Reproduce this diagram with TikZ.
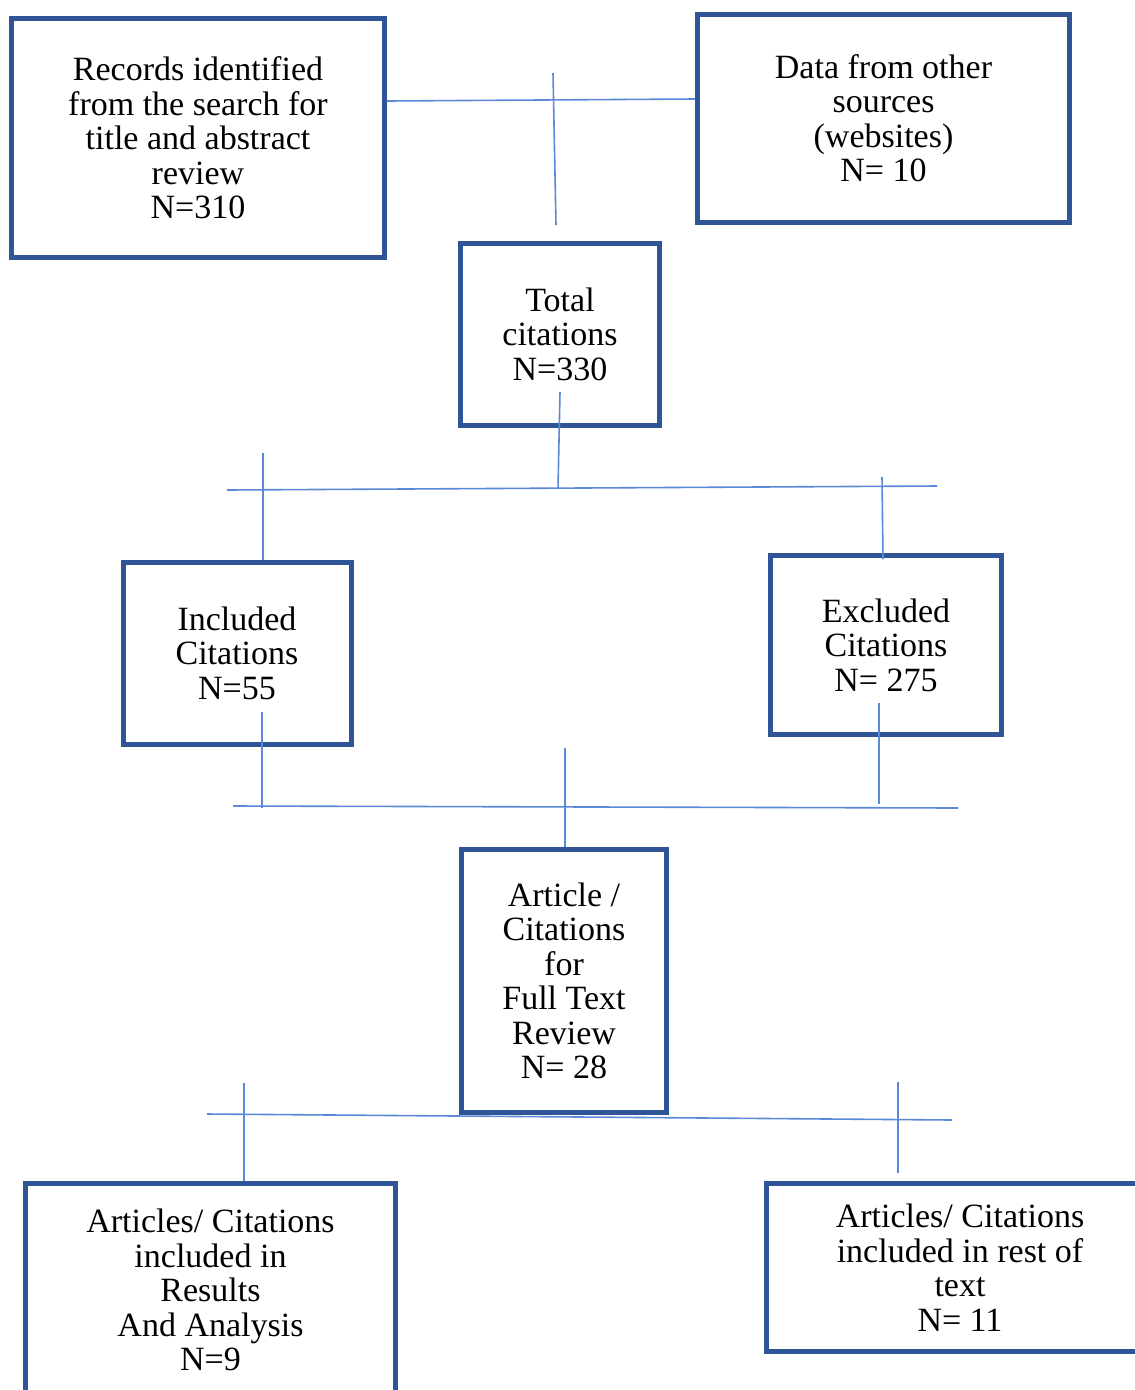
\documentclass[tikz,border=0pt]{standalone}
\usepackage{fontspec}
\setmainfont{Liberation Serif}
\newfontfamily\boxfont{Liberation Serif}
\usepackage{xcolor}
\definecolor{box-blue}{HTML}{2F5597}
\definecolor{line-blue}{HTML}{5B88D8}
\tikzset{
    flow-box/.style = {draw=box-blue, fill=white, line width=5pt, rectangle, align=center, inner sep=0pt, font=\boxfont\fontsize{34}{34.5}\selectfont},
    flow-line/.style = {draw=line-blue, line width=1.6pt},
}

\begin{document}
\begin{tikzpicture}[x=1pt, y=-1pt]
\useasboundingbox (0,0) rectangle (1135,1390);

\node[flow-box, minimum width=373pt, minimum height=239pt] (records) at (198,138)
    {Records identified\\from the search for\\title and abstract\\review\\N=310};
\node[flow-box, minimum width=372pt, minimum height=208pt] (data) at (883.5,118)
    {Data from other\\sources\\(websites)\\N= 10};
\node[flow-box, minimum width=199pt, minimum height=182pt] (total) at (560,334)
    {Total\\citations\\N=330};
\node[flow-box, minimum width=228pt, minimum height=182pt] (incl) at (237,653)
    {Included\\Citations\\N=55};
\node[flow-box, minimum width=231pt, minimum height=179pt] (excl) at (886,645)
    {Excluded\\Citations\\N= 275};
\node[flow-box, minimum width=205pt, minimum height=263pt] (fulltext) at (564,981)
    {Article /\\Citations\\for\\Full Text\\Review\\N= 28};
\node[flow-box, minimum width=370pt, minimum height=214pt] (results) at (210.5,1290)
    {Articles/ Citations\\included in\\Results\\And Analysis\\N=9};
\node[flow-box, minimum width=387pt, minimum height=168pt] (rest) at (960,1267.5)
    {Articles/ Citations\\included in rest of\\text\\N= 11};

% bus ends and free ends
\coordinate (top-n) at (553,73);
\coordinate (top-s) at (556,225);
\coordinate (bus1-w) at (227,490);
\coordinate (bus1-e) at (937,486);
\coordinate (bus1-m) at (558,489);
\coordinate (incl-top) at (263,453);
\coordinate (excl-top) at (882,477);
\coordinate (bus2-w) at (233,806);
\coordinate (bus2-e) at (958,808);
\coordinate (incl-end) at (262,808);
\coordinate (excl-end) at (879,804);
\coordinate (full-top) at (565,748);
\coordinate (bus3-w) at (207,1114);
\coordinate (bus3-e) at (952,1120);
\coordinate (res-top) at (244,1083);
\coordinate (rest-top) at (898,1082);
\coordinate (rest-end) at (898,1173);

\draw[flow-line] ([yshift=37pt]records.east) -- ([yshift=19pt]data.west);
\draw[flow-line] (top-n) -- (top-s);
\draw[flow-line] ([yshift=-58pt]total.center) -- (bus1-m);
\draw[flow-line] (bus1-w) -- (bus1-e);
\draw[flow-line] (incl-top) -- ([xshift=26pt]incl.north);
\draw[flow-line] (excl-top) -- ([xshift=-3pt,yshift=-6pt]excl.north);
\draw[flow-line] ([xshift=25pt,yshift=-59pt]incl.center) -- (incl-end);
\draw[flow-line] ([xshift=-7pt,yshift=-58pt]excl.center) -- (excl-end);
\draw[flow-line] (bus2-w) -- (bus2-e);
\draw[flow-line] (full-top) -- ([xshift=1pt]fulltext.north);
\draw[flow-line] (bus3-w) -- (bus3-e);
\draw[flow-line] (res-top) -- ([xshift=33.5pt]results.north);
\draw[flow-line] (rest-top) -- (rest-end);
\end{tikzpicture}
\end{document}
